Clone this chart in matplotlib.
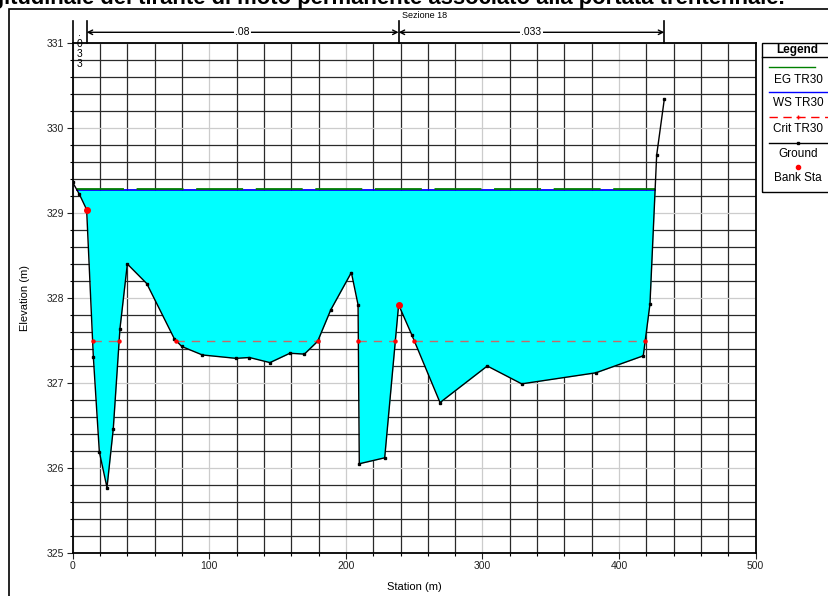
import numpy as np
import matplotlib
matplotlib.use('Agg')
import matplotlib.pyplot as plt
from matplotlib.lines import Line2D
from matplotlib.patches import Rectangle

plt.rcParams['font.family'] = ['Liberation Sans', 'DejaVu Sans']

###############################################################################
#### Data (read off the cross section)
###############################################################################
station = [0.0, 4.9, 10.2, 15.1, 19.5, 25.1, 29.7, 34.6, 40.0, 54.2, 74.4,
           79.8, 94.9, 119.5, 129.3, 144.4, 159.0, 169.6, 179.3, 188.9,
           204.0, 208.9, 209.8, 228.4, 238.6, 248.4, 268.9, 303.5, 328.7,
           383.0, 417.7, 422.6, 427.5, 433.1]
elevation = [329.36, 329.22, 329.04, 327.31, 326.19, 325.77, 326.46, 327.64,
             328.40, 328.17, 327.52, 327.43, 327.33, 327.29, 327.30, 327.24,
             327.35, 327.34, 327.49, 327.86, 328.30, 327.92, 326.05, 326.12,
             327.92, 327.56, 326.77, 327.20, 326.99, 327.12, 327.32, 327.93,
             329.68, 330.34]
bank_sta = [10.2, 238.6]
ws_elev = 329.27
eg_elev = 329.285
crit_elev = 327.50
n_values = ['.033', '.08', '.033']
section_name = 'Sezione 18'
title = 'Profilo longitudinale del tirante di moto permanente associato alla portata trentennale.'
legend_labels = ['EG TR30', 'WS TR30', 'Crit TR30', 'Ground', 'Bank Sta']

W, H = 829, 596


def fpx(x, y):
    # pixel position -> figure fraction
    return x / W, 1 - y / H


def below_ranges(xs, ys, level):
    # stretches of the ground lying below a level, ends found by linear interpolation
    out = []
    start = None
    for i in range(len(xs)):
        if ys[i] < level and start is None:
            if i == 0:
                start = xs[0]
            else:
                t = (ys[i-1] - level) / (ys[i-1] - ys[i])
                start = xs[i-1] + t * (xs[i] - xs[i-1])
        if ys[i] >= level and start is not None:
            t = (level - ys[i-1]) / (ys[i] - ys[i-1])
            out.append((start, xs[i-1] + t * (xs[i] - xs[i-1])))
            start = None
    if start is not None:
        out.append((start, xs[-1]))
    return out


sx = np.array(station)
sy = np.array(elevation)

fig = plt.figure(figsize=(W / 100, H / 100), dpi=100)
ax = fig.add_axes([72.7 / W, 1 - 553 / H, (755.7 - 72.7) / W, (553 - 43) / H])

# outer frame, runs off the right and bottom edge
fig.add_artist(Rectangle(fpx(9.3, 700), 1.2, (700 - 9) / H, transform=fig.transFigure,
                         fill=False, ec='black', lw=1.2, clip_on=False))
fig.text(785 / W, 1 - 4 / H, title, ha='right', va='baseline', fontsize=15.8,
         fontweight='bold')

# water
ax.fill_between(sx, sy, ws_elev, where=sy < ws_elev, interpolate=True,
                color='#00ffff', lw=0, zorder=2)
for a, b in below_ranges(sx, sy, ws_elev):
    ax.plot([a, b], [ws_elev, ws_elev], color='#0000ff', lw=1.3, zorder=3)
    ax.plot([a, b], [eg_elev, eg_elev], color='#008000', lw=1.3, zorder=3,
            dashes=(26, 7))
for a, b in below_ranges(sx, sy, crit_elev):
    ax.plot([a, b], [crit_elev, crit_elev], color='#c46a6a', lw=1.0, zorder=3,
            dashes=(6, 5))
    ax.plot([a, b], [crit_elev, crit_elev], ls='none', marker='o', ms=2.2,
            color='red', zorder=5)

ax.plot(sx, sy, color='black', lw=1.0, marker='s', ms=2.0, zorder=4)
ax.plot(bank_sta, np.interp(bank_sta, sx, sy), ls='none', marker='o', ms=4,
        color='red', zorder=6)

ax.set_xlim(0, 500)
ax.set_ylim(325, 331)
ax.set_xticks(np.arange(0, 501, 100))
ax.set_xticks(np.arange(0, 501, 20), minor=True)
ax.set_yticks(np.arange(325, 331.1, 1))
ax.set_yticks(np.arange(325, 331.01, 0.2), minor=True)
ax.grid(which='minor', color='#2a2a2a', lw=0.9)
ax.grid(which='major', color='#cccccc', lw=0.9)
ax.set_axisbelow(True)
ax.tick_params(which='major', direction='out', length=4, width=0.8,
               labelsize=7.5, pad=2, colors='#222222')
ax.tick_params(which='minor', direction='out', length=2.5, width=0.8)
for s in ax.spines.values():
    s.set_linewidth(1.3)
ax.set_xlabel('Station (m)', fontsize=8, labelpad=8)
ax.set_ylabel('Elevation (m)', fontsize=8, labelpad=12)

# Manning's n bar above the plot
n_sta = [station[0]] + bank_sta + [station[-1]]
tr = ax.get_xaxis_transform()
for s in n_sta:
    ax.plot([s, s], [1.0, 1.043], color='black', lw=1.2, transform=tr, clip_on=False)
for i in range(1, len(n_sta) - 1):
    a, b = n_sta[i], n_sta[i + 1]
    ax.annotate('', xy=(b, 1.021), xytext=(a, 1.021), xycoords=tr, textcoords=tr,
                arrowprops=dict(arrowstyle='<->', lw=1.0, color='black',
                                shrinkA=0, shrinkB=0, mutation_scale=8))
    ax.text((a + b) / 2, 1.021, n_values[i], transform=tr, ha='center',
            va='center', fontsize=7.5,
            bbox=dict(fc='white', ec='none', pad=1.0))
ax.text((n_sta[0] + n_sta[1]) / 2, 1.029, '\n'.join(n_values[0]), transform=tr,
        ha='center', va='top', fontsize=7.5, linespacing=1.05, zorder=10,
        clip_on=False)
ax.text(bank_sta[1] + 2.5, 1.0535, section_name, transform=tr, ha='left',
        va='center', fontsize=6.5)

# legend box drawn by hand
fig.add_artist(Rectangle(fpx(762, 191.7), 0.2, (191.7 - 43.3) / H,
                         transform=fig.transFigure, fill=False, ec='black', lw=1.0))
fig.add_artist(Line2D([762 / W, 1.0], [1 - 57.3 / H] * 2, transform=fig.transFigure,
                      color='black', lw=1.0))
fig.text(*fpx(797, 50.5), 'Legend', ha='center', va='center', fontsize=8.5,
         fontweight='bold')
sym_y = [67.3, 92, 117.3, 142.7, 166.7]
txt_y = [80, 102.7, 128.7, 154, 178.3]
fig.add_artist(Line2D([769 / W, 815 / W], [1 - sym_y[0] / H] * 2,
                      transform=fig.transFigure, color='#008000', lw=1.0))
fig.add_artist(Line2D([769 / W, 1.0], [1 - sym_y[1] / H] * 2,
                      transform=fig.transFigure, color='#0000ff', lw=1.0))
fig.add_artist(Line2D([769 / W, 1.0], [1 - sym_y[2] / H] * 2,
                      transform=fig.transFigure, color='red', lw=1.0, dashes=(6, 4)))
fig.add_artist(Line2D([798 / W], [1 - sym_y[2] / H], transform=fig.transFigure,
                      color='red', marker='+', ms=3, ls='none'))
fig.add_artist(Line2D([769 / W, 1.0], [1 - sym_y[3] / H] * 2,
                      transform=fig.transFigure, color='black', lw=1.0))
fig.add_artist(Line2D([798 / W], [1 - sym_y[3] / H], transform=fig.transFigure,
                      color='black', marker='s', ms=2.0, ls='none'))
fig.add_artist(Line2D([798 / W], [1 - sym_y[4] / H], transform=fig.transFigure,
                      color='red', marker='o', ms=3, ls='none'))
for lab, y in zip(legend_labels, txt_y):
    fig.text(*fpx(798, y), lab, ha='center', va='center', fontsize=8.5)

plt.savefig('out.png', dpi=100)
